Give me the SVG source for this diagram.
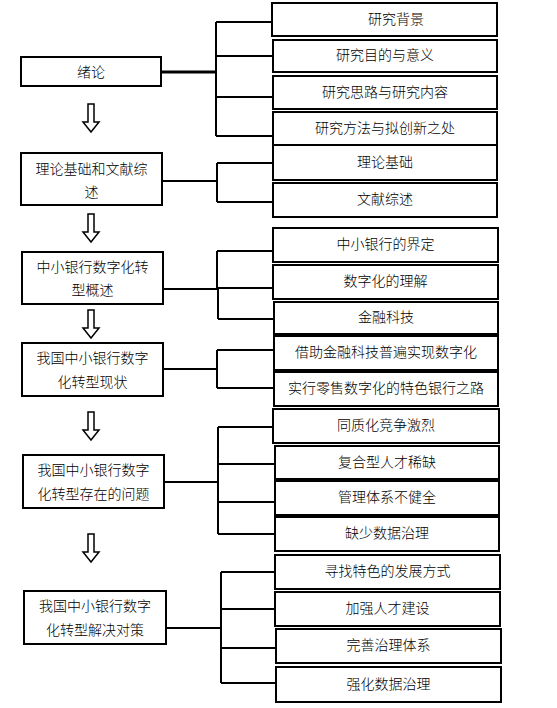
<svg xmlns="http://www.w3.org/2000/svg" xmlns:xlink="http://www.w3.org/1999/xlink" width="557" height="708" viewBox="0 0 557 708">
<style>
rect.b{fill:#fff;stroke:#000;stroke-width:2}
text{font-family:"Liberation Sans","Noto Sans CJK SC",sans-serif;font-size:14px;font-weight:300;fill:#000;text-anchor:middle;dominant-baseline:central}
.c line,.c polyline{stroke:#000;stroke-width:2;fill:none}
.arr{fill:#fff;stroke:#000;stroke-width:1.5;stroke-linejoin:miter}
</style>
<defs>
<path id="ar" class="arr" d="M-3,0 L-3,18 L-8,18 L0,28 L8,18 L3,18 L3,0 Z"/>
</defs>
<rect width="557" height="708" fill="#fff"/>
<g class="c" id="connectors">
<line x1="161" y1="72" x2="216" y2="72" style="stroke-width:3"/>
<line x1="216" y1="22" x2="216" y2="136"/>
<line x1="216" y1="22" x2="272" y2="22"/>
<line x1="216" y1="56" x2="273" y2="56"/>
<line x1="216" y1="97" x2="273" y2="97"/>
<line x1="216" y1="136" x2="273" y2="136"/>
<line x1="162" y1="181" x2="217" y2="181"/>
<line x1="217" y1="163" x2="217" y2="202"/>
<line x1="217" y1="163" x2="273" y2="163"/>
<line x1="217" y1="202" x2="273" y2="202"/>
<line x1="163" y1="289" x2="218" y2="289"/>
<line x1="217" y1="251" x2="217" y2="289"/>
<line x1="218" y1="289" x2="218" y2="319"/>
<line x1="217" y1="251" x2="273" y2="251"/>
<line x1="217" y1="288" x2="273" y2="288"/>
<line x1="218" y1="319" x2="274" y2="319"/>
<line x1="163" y1="369" x2="217" y2="369"/>
<line x1="217" y1="350" x2="217" y2="388"/>
<line x1="217" y1="350" x2="274" y2="350"/>
<line x1="217" y1="388" x2="274" y2="388"/>
<line x1="164" y1="482" x2="218" y2="482"/>
<line x1="218" y1="427" x2="218" y2="534"/>
<line x1="218" y1="427" x2="273" y2="427"/>
<line x1="218" y1="464" x2="275" y2="464"/>
<line x1="218" y1="502" x2="275" y2="502"/>
<line x1="218" y1="534" x2="275" y2="534"/>
<line x1="166" y1="628" x2="221" y2="628"/>
<line x1="221" y1="572" x2="221" y2="683"/>
<line x1="221" y1="572" x2="275" y2="572"/>
<line x1="221" y1="609" x2="275" y2="609"/>
<line x1="221" y1="648" x2="276" y2="648"/>
<line x1="221" y1="683" x2="276" y2="683"/>
</g>
<g id="arrows">
<use xlink:href="#ar" x="91" y="104"/>
<use xlink:href="#ar" x="91" y="214"/>
<use xlink:href="#ar" x="91" y="310"/>
<use xlink:href="#ar" x="91" y="412"/>
<use xlink:href="#ar" x="91" y="534"/>
</g>
<g id="n-xulun"><rect class="b" x="21" y="57" width="140" height="29"/><text x="91" y="72">绪论</text></g>
<g id="n-lilun"><rect class="b" x="21" y="153" width="141" height="52"/><text x="91.5" y="169">理论基础和文献综</text><text x="91.5" y="192">述</text></g>
<g id="n-gaishu"><rect class="b" x="22" y="252" width="141" height="52"/><text x="92.5" y="267">中小银行数字化转</text><text x="92.5" y="290">型概述</text></g>
<g id="n-xianzhuang"><rect class="b" x="22" y="343" width="141" height="53"/><text x="92.5" y="358">我国中小银行数字</text><text x="92.5" y="382">化转型现状</text></g>
<g id="n-wenti"><rect class="b" x="23" y="455" width="141" height="53"/><text x="93.5" y="470">我国中小银行数字</text><text x="93.5" y="494">化转型存在的问题</text></g>
<g id="n-duice"><rect class="b" x="24" y="591" width="142" height="53"/><text x="95" y="606">我国中小银行数字</text><text x="95" y="630">化转型解决对策</text></g>
<g id="r1"><rect class="b" x="272" y="3" width="225" height="33"/><text x="396" y="18.5">研究背景</text></g>
<g id="r2"><rect class="b" x="273" y="40" width="224" height="32"/><text x="385" y="55">研究目的与意义</text></g>
<g id="r3"><rect class="b" x="273" y="76" width="224" height="33"/><text x="385" y="91.5">研究思路与研究内容</text></g>
<g id="r4"><rect class="b" x="273" y="112" width="224" height="33"/><text x="385" y="127.5">研究方法与拟创新之处</text></g>
<g id="r5"><rect class="b" x="273" y="145" width="224" height="35"/><text x="385" y="161.5">理论基础</text></g>
<g id="r6"><rect class="b" x="273" y="183" width="224" height="34"/><text x="385" y="199">文献综述</text></g>
<g id="r7"><rect class="b" x="273" y="228" width="225" height="34"/><text x="385.5" y="244">中小银行的界定</text></g>
<g id="r8"><rect class="b" x="273" y="265" width="225" height="34"/><text x="385.5" y="281">数字化的理解</text></g>
<g id="r9"><rect class="b" x="274" y="302" width="224" height="32"/><text x="386" y="317">金融科技</text></g>
<g id="r10"><rect class="b" x="274" y="336" width="224" height="34"/><text x="386" y="352">借助金融科技普遍实现数字化</text></g>
<g id="r11"><rect class="b" x="274" y="372" width="224" height="34"/><text x="386" y="388">实行零售数字化的特色银行之路</text></g>
<g id="r12"><rect class="b" x="273" y="409" width="226" height="34"/><text x="386" y="425">同质化竞争激烈</text></g>
<g id="r13"><rect class="b" x="275" y="446" width="224" height="33"/><text x="387" y="461.5">复合型人才稀缺</text></g>
<g id="r14"><rect class="b" x="275" y="481" width="224" height="34"/><text x="387" y="497">管理体系不健全</text></g>
<g id="r15"><rect class="b" x="275" y="517" width="224" height="34"/><text x="387" y="533">缺少数据治理</text></g>
<g id="r16"><rect class="b" x="275" y="555" width="225" height="34"/><text x="387.5" y="571">寻找特色的发展方式</text></g>
<g id="r17"><rect class="b" x="275" y="592" width="225" height="34"/><text x="387.5" y="608">加强人才建设</text></g>
<g id="r18"><rect class="b" x="276" y="629" width="225" height="34"/><text x="388.5" y="645">完善治理体系</text></g>
<g id="r19"><rect class="b" x="276" y="667" width="225" height="35"/><text x="388.5" y="683.5">强化数据治理</text></g>
</svg>
